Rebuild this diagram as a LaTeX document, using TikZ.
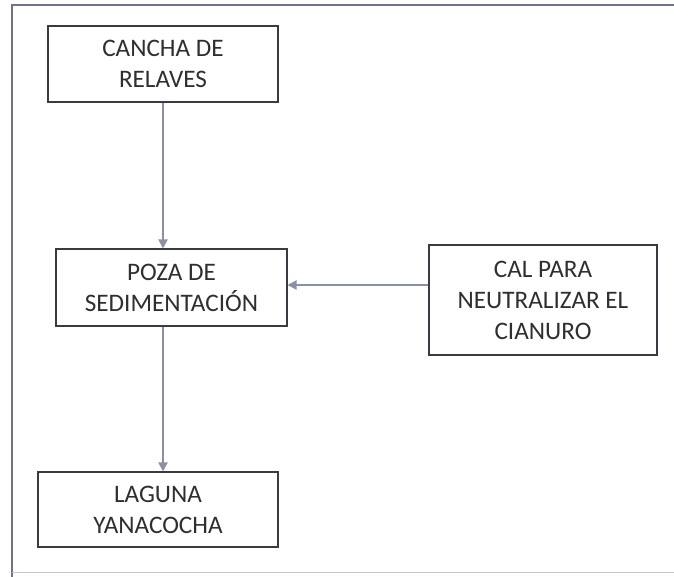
\documentclass[tikz,border=0pt]{standalone}
\usepackage{fontspec}
\setmainfont{Carlito}
\usetikzlibrary{arrows.meta,calc}
\definecolor{boxline}{HTML}{3A3A44}
\definecolor{arrowcol}{HTML}{8C90A6}
\definecolor{framecol}{HTML}{6E7190}
\definecolor{txt}{HTML}{2E2E33}
\begin{document}
\begin{tikzpicture}[x=0.03cm,y=-0.03cm,
  box/.style={draw=boxline,line width=0.9pt,align=center,inner sep=0pt,
    text=txt,font=\fontsize{21.5}{26.5}\selectfont},
  arr/.style={draw=arrowcol,line width=1.6pt,-{Triangle[width=0.27cm,length=0.27cm]}}]
\useasboundingbox (0,0) rectangle (674,576);
\fill[white] (0,0) rectangle (674,576);
\draw[framecol,line width=1.1pt] (12,580) -- (12,5) -- (680,5);
\draw[framecol!40,line width=0.8pt] (12,572) -- (674,572);
\node[box,minimum width=230*0.03cm,minimum height=76*0.03cm] (cancha) at (163,64) {CANCHA DE\\RELAVES};
\node[box,minimum width=231*0.03cm,minimum height=77*0.03cm] (poza) at (171.5,287.5) {POZA DE\\SEDIMENTACIÓN};
\node[box,minimum width=228*0.03cm,minimum height=110*0.03cm] (cal) at (543,300) {CAL PARA\\NEUTRALIZAR EL\\CIANURO};
\node[box,minimum width=240*0.03cm,minimum height=75*0.03cm] (laguna) at (158,509.5) {LAGUNA\\YANACOCHA};
\draw[arr] (cancha.south) -- (poza.north -| cancha.south);
\draw[arr] (poza.south -| cancha.south) -- (laguna.north -| cancha.south);
\draw[arr] ([yshift=0.45cm]cal.west) coordinate (h) -- (h -| poza.east);
\end{tikzpicture}
\end{document}
